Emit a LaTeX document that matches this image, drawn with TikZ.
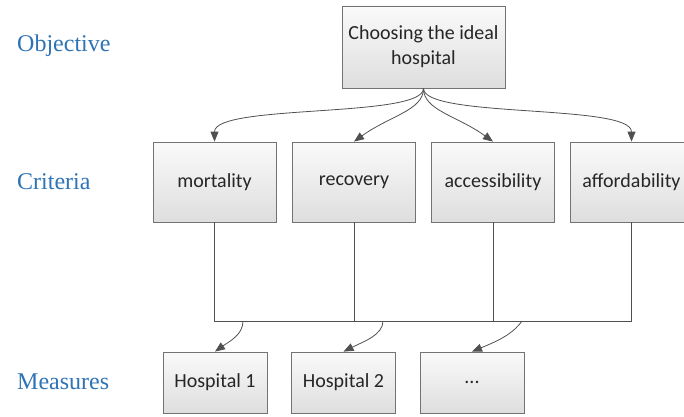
\documentclass[tikz,border=0pt]{standalone}
\usepackage{fontspec}
\setmainfont{Liberation Serif}
\newfontfamily\boxfont{Carlito}
\usetikzlibrary{arrows.meta}
\definecolor{tierblue}{RGB}{46,116,181}
\definecolor{linegray}{RGB}{80,80,80}
\begin{document}
\begin{tikzpicture}[x=1pt, y=1pt,
	box/.style={draw=black!55, line width=0.8pt, top color=black!2, bottom color=black!13,
		text=black!85, font=\boxfont\fontsize{20}{25}\selectfont, align=center, inner sep=0pt},
	tier/.style={anchor=west, text=tierblue, font=\rmfamily\fontsize{24}{28}\selectfont, inner sep=0pt},
	arr/.style={draw=linegray, line width=0.8pt, -{Triangle[length=10pt,width=8pt]}},
	link/.style={draw=linegray, line width=0.8pt}]
	\useasboundingbox (0, 0) rectangle (684, 416);
	% levels
	\node[tier] (lobj) at (17, 370) {Objective};
	\node[tier] (lcrit) at (17, 234) {Criteria};
	\node[tier] (lmeas) at (17, 34) {Measures};
	% objective
	\node[box, minimum width=163, minimum height=82] (obj) at (423.5, 369) {Choosing the ideal\\hospital};
	% criteria
	\node[box, minimum width=123, minimum height=80] (c1) at (214.5, 234) {mortality};
	\node[box, minimum width=123, minimum height=80] (c2) at (354, 234) {recovery};
	\node[box, minimum width=123, minimum height=80] (c3) at (493, 234) {accessibility};
	\node[box, minimum width=123, minimum height=80] (c4) at (631.5, 234) {affordability};
	% measures
	\node[box, minimum width=104, minimum height=61] (m1) at (215, 33.5) {Hospital 1};
	\node[box, minimum width=104, minimum height=61] (m2) at (343.5, 33.5) {Hospital 2};
	\node[box, minimum width=104, minimum height=61] (m3) at (472, 33.5) {...};
	% objective to criteria
	\draw[arr] (obj.south) .. controls +(0, -30) and +(0, 38) .. (c1.north);
	\draw[arr] (obj.south) .. controls +(0, -22) and +(36, 26) .. (c2.north);
	\draw[arr] (obj.south) .. controls +(0, -22) and +(-36, 26) .. (c3.north);
	\draw[arr] (obj.south) .. controls +(0, -30) and +(0, 38) .. (c4.north);
	% criteria to bar
	\coordinate (bar) at (0, 95);
	\draw[link] (c1.south) -- (c1.south |- bar) -- (c4.south |- bar) -- (c4.south);
	\draw[link] (c2.south) -- (c2.south |- bar);
	\draw[link] (c3.south) -- (c3.south |- bar);
	% bar to measures
	\coordinate (b1) at (243, 95);
	\coordinate (b2) at (383, 95);
	\coordinate (b3) at (522, 95);
	\draw[arr] (b1) .. controls +(0, -14) and +(14, 10) .. (m1.north);
	\draw[arr] (b2) .. controls +(0, -14) and +(20, 10) .. (m2.north);
	\draw[arr] (b3) .. controls +(-10, -14) and +(24, 10) .. (m3.north);
\end{tikzpicture}
\end{document}
